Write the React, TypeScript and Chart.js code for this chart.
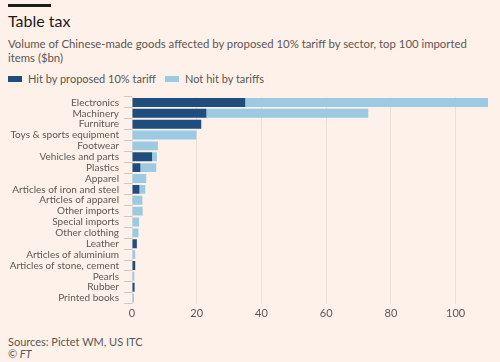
import React, { useEffect, useRef } from "react";
import { Chart, registerables } from "chart.js";

Chart.register(...registerables);

const categories = [
  "Electronics",
  "Machinery",
  "Furniture",
  "Toys & sports equipment",
  "Footwear",
  "Vehicles and parts",
  "Plastics",
  "Apparel",
  "Articles of iron and steel",
  "Articles of apparel",
  "Other imports",
  "Special imports",
  "Other clothing",
  "Leather",
  "Articles of aluminium",
  "Articles of stone, cement",
  "Pearls",
  "Rubber",
  "Printed books",
];

const hitByTariff = [35, 23, 21.4, 0, 0, 6.2, 2.6, 0, 2.3, 0, 0, 0, 0, 1.5, 0, 1.0, 0, 0.8, 0];
const notHitByTariffs = [75, 50, 0, 19.9, 8, 1.5, 4.9, 4.4, 1.8, 3.2, 3.3, 2.2, 2.0, 0, 1.0, 0, 0.7, 0, 0.6];
const xTickValues = [0, 20, 40, 60, 80, 100];
const seriesNames = ["Hit by proposed 10% tariff", "Not hit by tariffs"];

const DARK = "#1f4e7e";
const LIGHT = "#9bcae2";
const BG = "#fdf1ea";
const FONT = "Lato, 'Noto Sans', sans-serif";
const LABEL = "#5e5854";
const GRID = "#ebdfd6";

export default function App() {
  const ref = useRef<HTMLCanvasElement>(null);

  useEffect(() => {
    document.body.style.margin = "0";
    document.body.style.background = BG;
    const chart = new Chart(ref.current!, {
      type: "bar",
      data: {
        labels: categories,
        datasets: [
          {
            label: seriesNames[0],
            data: hitByTariff,
            backgroundColor: DARK,
            categoryPercentage: 0.82,
            barPercentage: 1,
          },
          {
            label: seriesNames[1],
            data: notHitByTariffs,
            backgroundColor: LIGHT,
            categoryPercentage: 0.82,
            barPercentage: 1,
          },
        ],
      },
      options: {
        indexAxis: "y",
        responsive: false,
        animation: false,
        layout: { padding: { top: 7, right: 12, bottom: 0, left: 0 } },
        plugins: { legend: { display: false }, tooltip: { enabled: false } },
        scales: {
          x: {
            stacked: true,
            min: 0,
            max: 110,
            afterBuildTicks: (s: any) => {
              s.ticks = xTickValues.map((v) => ({ value: v }));
            },
            afterFit: (s: any) => {
              s.height = 26.5;
            },
            grid: { color: GRID, drawTicks: false },
            border: { display: false },
            ticks: { padding: 3, font: { family: FONT, size: 11 }, color: LABEL },
          },
          y: {
            stacked: true,
            afterFit: (s: any) => {
              s.width = 132;
            },
            grid: { drawOnChartArea: false, tickLength: 8, color: "#cfc6bf" },
            border: { display: false },
            ticks: { padding: 5, autoSkip: false, font: { family: FONT, size: 10 }, color: LABEL },
          },
        },
      },
    });
    return () => chart.destroy();
  }, []);

  const abs = (o: React.CSSProperties): React.CSSProperties => ({ position: "absolute", margin: 0, whiteSpace: "nowrap", fontFamily: FONT, ...o });

  return (
    <div style={{ position: "relative", width: 500, height: 362, background: BG, overflow: "hidden" }}>
      <div style={abs({ left: 8, top: 4, width: 43, height: 2.5, background: "#1d1b1a" })} />
      <div style={abs({ left: 8, top: 11, fontSize: 16, color: "#1d1b1a", lineHeight: "20px" })}>Table tax</div>
      <div style={abs({ left: 8, top: 37, fontSize: 11.35, color: "#5c5652", lineHeight: "13.5px" })}>
        Volume of Chinese-made goods affected by proposed 10% tariff by sector, top 100 imported
        <br />
        items ($bn)
      </div>
      <div style={abs({ left: 8, top: 76, width: 14, height: 6, background: DARK })} />
      <div style={abs({ left: 28, top: 72, fontSize: 11, color: "#5c5652", lineHeight: "14px" })}>{seriesNames[0]}</div>
      <div style={abs({ left: 165, top: 76, width: 14, height: 6, background: LIGHT })} />
      <div style={abs({ left: 185, top: 72, fontSize: 11, color: "#5c5652", lineHeight: "14px" })}>{seriesNames[1]}</div>
      <canvas ref={ref} width={500} height={244} style={{ position: "absolute", left: 0, top: 86, display: "block" }} />
      <div style={abs({ left: 8, top: 335, fontSize: 11, color: "#5c5652", lineHeight: "14px" })}>Sources: Pictet WM, US ITC</div>
      <div style={abs({ left: 8, top: 347, fontSize: 11, color: "#5c5652", lineHeight: "14px", fontStyle: "italic" })}>© FT</div>
    </div>
  );
}
